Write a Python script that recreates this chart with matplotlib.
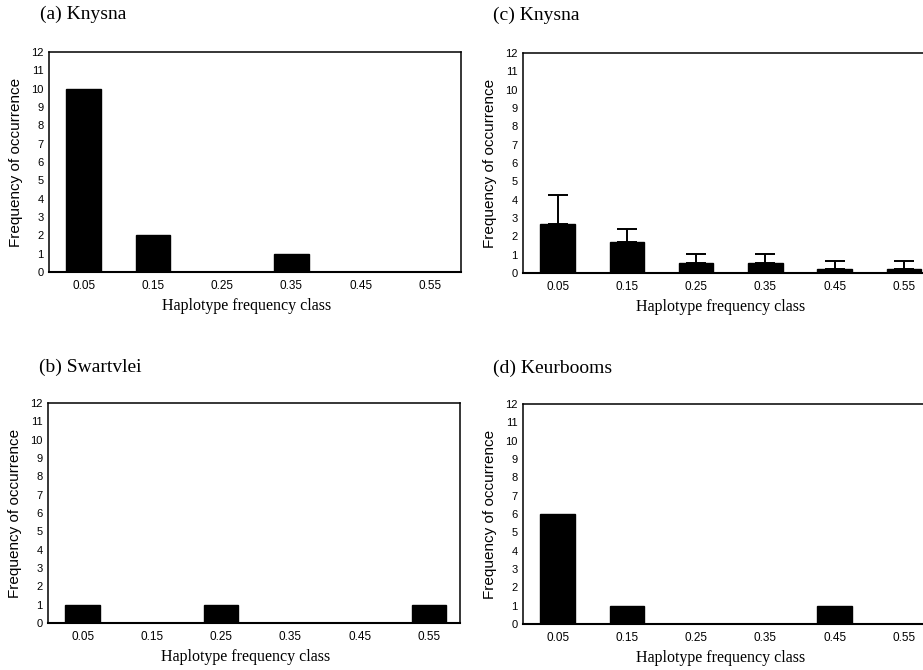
import matplotlib
matplotlib.use("Agg")
import matplotlib.pyplot as plt
import numpy as np

# Haplotype frequency classes (x categories)
classes = ["0.05", "0.15", "0.25", "0.35", "0.45", "0.55"]

# Observed frequency of occurrence per population
knysna_obs = [10, 2, 0, 1, 0, 0]
swartvlei_obs = [1, 0, 1, 0, 0, 1]
keurbooms_obs = [6, 1, 0, 0, 1, 0]

# Knysna resampled means with upper error
knysna_mean = [2.67, 1.67, 0.55, 0.55, 0.22, 0.22]
knysna_err = [1.57, 0.71, 0.50, 0.50, 0.43, 0.43]

yticks = list(range(0, 13))

SERIF = ["Liberation Serif", "DejaVu Serif"]
SANS = ["Liberation Sans", "DejaVu Sans"]

W, H = 923, 670
fig = plt.figure(figsize=(W / 100, H / 100), dpi=100)


def fx(px):
    return px / W


def fy(py):
    return 1 - py / H


def panel(left_px, top_px, bottom_px, title, title_xy, values, err=None):
    width_px = 412
    ax = fig.add_axes([fx(left_px), fy(bottom_px), width_px / W,
                       (bottom_px - top_px) / H])
    x = np.arange(len(classes))
    ax.bar(x, values, width=0.5, color="black", edgecolor="black", zorder=2)
    if err is not None:
        ax.errorbar(x, values, yerr=[np.zeros(len(err)), err], fmt="none",
                    ecolor="black", elinewidth=1.4, capsize=7.5,
                    capthick=1.4, zorder=3)
    ax.set_xlim(-0.5, 5.45)
    ax.set_ylim(0, 12)
    ax.set_xticks(x)
    ax.set_xticklabels(classes, fontfamily=SANS, fontsize=8.5)
    ax.set_yticks(yticks)
    ax.set_yticklabels([str(v) for v in yticks], fontfamily=SANS, fontsize=8)
    ax.tick_params(axis="x", length=0, pad=6)
    ax.tick_params(axis="y", length=0, pad=4)
    for s in ax.spines.values():
        s.set_linewidth(1.1)
        s.set_color("black")
    ax.spines["bottom"].set_linewidth(1.5)
    ax.set_ylabel("Frequency of occurrence", fontfamily=SANS, fontsize=11)
    ax.yaxis.set_label_coords(-0.063, 0.5)
    ax.set_xlabel("Haplotype frequency class", fontfamily=SERIF, fontsize=11.5)
    ax.xaxis.set_label_coords(0.48, -(26 / (bottom_px - top_px)))
    fig.text(fx(title_xy[0]), fy(title_xy[1]), title, fontfamily=SERIF,
             fontsize=14, ha="left", va="center")
    return ax


panel(49, 52, 272, "(a) Knysna", (40, 14), knysna_obs)
panel(523, 53, 273, "(c) Knysna", (493, 15), knysna_mean, knysna_err)
panel(48, 403, 623, "(b) Swartvlei", (39, 367), swartvlei_obs)
panel(523, 404, 624, "(d) Keurbooms", (493, 368), keurbooms_obs)

fig.savefig("out.png", dpi=100, facecolor="white")
